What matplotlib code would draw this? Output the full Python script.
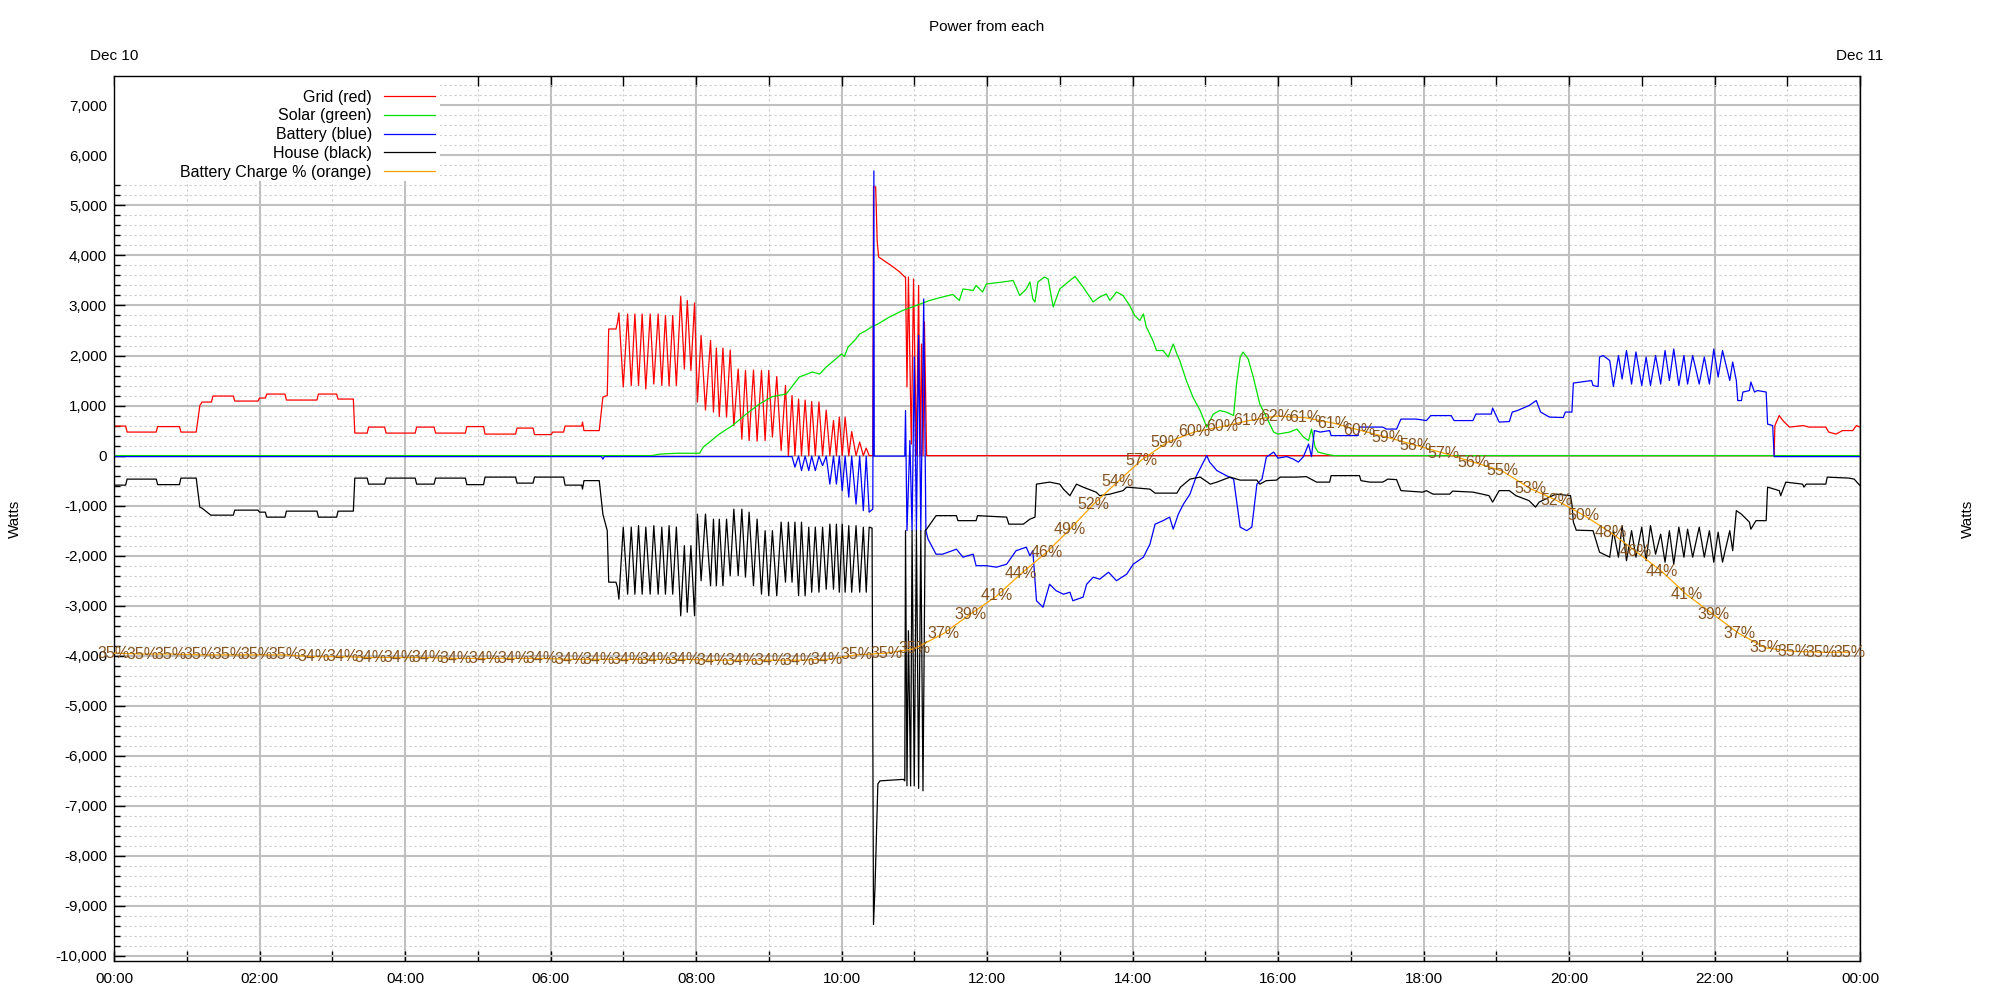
import numpy as np
import matplotlib
matplotlib.use('Agg')
import matplotlib.pyplot as plt
from matplotlib.ticker import MultipleLocator, FuncFormatter
from matplotlib.patches import Rectangle

plt.rcParams['font.family'] = ['Liberation Sans', 'DejaVu Sans']

# (hour of day, watts)
grid_pts = [
    (0.00, 590), (0.16, 590), (0.18, 470), (0.58, 470), (0.60, 580), (0.90, 580), (0.92, 470),
    (1.13, 470), (1.18, 1000), (1.21, 1070), (1.34, 1070), (1.36, 1190), (1.64, 1190), (1.66, 1090),
    (1.98, 1090), (2.00, 1150), (2.08, 1150), (2.10, 1230), (2.35, 1230), (2.37, 1110), (2.79, 1110),
    (2.81, 1230), (3.06, 1230), (3.08, 1130), (3.29, 1130), (3.31, 450), (3.48, 450), (3.50, 570),
    (3.72, 570), (3.74, 450), (4.14, 450), (4.16, 570), (4.40, 570), (4.42, 450), (4.83, 450),
    (4.85, 580), (5.08, 580), (5.10, 430), (5.52, 430), (5.54, 550), (5.76, 550), (5.78, 420),
    (6.01, 420), (6.03, 470), (6.18, 470), (6.20, 590), (6.43, 590), (6.44, 670), (6.46, 500),
    (6.67, 500), (6.72, 1170), (6.78, 1200), (6.80, 2530), (6.90, 2530), (6.92, 2650),
    (6.94, 2850), (7.00, 1370), (7.06, 2830), (7.11, 1400), (7.16, 2830), (7.21, 1400),
    (7.26, 2830), (7.31, 1330), (7.37, 2830), (7.42, 1430), (7.48, 2830), (7.53, 1400),
    (7.58, 2800), (7.63, 1390), (7.68, 2800), (7.73, 1400), (7.79, 3180), (7.84, 1730),
    (7.88, 3100), (7.93, 1700), (7.98, 3050), (8.02, 1070), (8.07, 2400), (8.13, 910),
    (8.20, 2300), (8.24, 870), (8.28, 2150), (8.32, 780), (8.37, 2150), (8.42, 770),
    (8.47, 2110), (8.52, 600), (8.58, 1730), (8.63, 330), (8.68, 1700), (8.73, 300),
    (8.79, 1710), (8.84, 290), (8.90, 1700), (8.95, 300), (9.00, 1700), (9.05, 370),
    (9.11, 1580), (9.17, 100), (9.23, 1400), (9.27, 0), (9.32, 1200), (9.36, 0),
    (9.41, 1130), (9.45, 0), (9.50, 1110), (9.55, 0), (9.59, 1080), (9.64, 0),
    (9.69, 1070), (9.74, 0), (9.79, 910), (9.84, 0), (9.89, 700), (9.93, 0),
    (9.97, 770), (10.01, 0), (10.05, 770), (10.10, 0), (10.14, 480), (10.20, 0),
    (10.25, 270), (10.30, 0), (10.34, 150), (10.38, 0), (10.43, 0), (10.44, 5370),
    (10.47, 5370), (10.49, 4300), (10.51, 3970), (10.61, 3870), (10.71, 3770), (10.80, 3670),
    (10.87, 3570), (10.88, 3570), (10.90, 1370), (10.92, 3570), (10.96, 230), (10.99, 3530),
    (11.03, 0), (11.06, 3400), (11.08, 0), (11.10, 2230), (11.12, 0), (11.14, 2670),
    (11.17, 0), (22.82, 0), (22.83, 600), (22.89, 800), (22.94, 700), (23.03, 570), (23.22, 600),
    (23.30, 570), (23.53, 570), (23.57, 470), (23.67, 430), (23.76, 500), (23.90, 500),
    (23.95, 600), (24.00, 570),
]

solar_pts = [
    (0.00, 0), (7.40, 0), (7.50, 30), (7.73, 47), (8.05, 47), (8.10, 170), (8.32, 430),
    (8.50, 600), (8.69, 830), (8.87, 1030), (9.05, 1180), (9.24, 1230), (9.33, 1400),
    (9.42, 1570), (9.60, 1670), (9.70, 1630), (9.79, 1770), (9.92, 1930), (10.00, 2030),
    (10.04, 1980), (10.09, 2170), (10.18, 2300), (10.25, 2430), (10.34, 2500), (10.41, 2570),
    (10.50, 2630), (10.66, 2770), (10.84, 2900), (11.03, 3000), (11.21, 3100), (11.39, 3170),
    (11.53, 3220), (11.62, 3100), (11.67, 3330), (11.81, 3300), (11.85, 3400), (11.94, 3270),
    (11.99, 3430), (12.22, 3470), (12.36, 3500), (12.45, 3200), (12.54, 3330), (12.59, 3470),
    (12.63, 3130), (12.66, 3070), (12.70, 3470), (12.79, 3570), (12.84, 3530), (12.91, 2970),
    (13.00, 3330), (13.14, 3500), (13.21, 3580), (13.32, 3370), (13.46, 3070), (13.55, 3170),
    (13.64, 3230), (13.69, 3100), (13.78, 3270), (13.87, 3200), (13.96, 3000), (14.03, 2800),
    (14.10, 2700), (14.15, 2830), (14.19, 2570), (14.28, 2300), (14.33, 2100), (14.42, 2100),
    (14.49, 1970), (14.56, 2230), (14.61, 2030), (14.65, 1900), (14.74, 1500), (14.83, 1170),
    (14.93, 900), (15.02, 570), (15.11, 830), (15.20, 900), (15.29, 870), (15.39, 800),
    (15.43, 1430), (15.48, 1970), (15.52, 2070), (15.59, 1930), (15.66, 1570), (15.75, 1030),
    (15.84, 770), (15.94, 470), (16.00, 430), (16.16, 470), (16.26, 530), (16.35, 370),
    (16.42, 300), (16.46, 530), (16.51, 170), (16.55, 70), (16.71, 13), (16.78, 0), (24.00, 0),
]

battery_pts = [
    (0.00, -20), (6.70, -20), (6.72, -70), (6.74, -20), (9.32, -20),
    (9.36, -230), (9.41, -10), (9.45, -300), (9.50, -10), (9.55, -300), (9.59, -10),
    (9.64, -300), (9.69, -10), (9.74, -200), (9.79, -10), (9.84, -570), (9.89, -10),
    (9.93, -570), (9.97, -10), (10.01, -700), (10.05, -10), (10.10, -830), (10.14, -10),
    (10.20, -970), (10.25, -10), (10.30, -1100), (10.34, -10), (10.38, -1130), (10.43, -1070),
    (10.445, 5690), (10.45, -10), (10.87, -10), (10.88, 900), (10.90, -1500), (10.94, 300),
    (10.97, -1500), (11.00, 1970), (11.03, -1500), (11.06, 2400), (11.09, -1500), (11.13, 3130),
    (11.16, -1500), (11.19, -1670), (11.30, -1970), (11.39, -1970), (11.58, -1870), (11.67, -2030),
    (11.81, -1970), (11.85, -2200), (11.99, -2200), (12.13, -2230), (12.27, -2170), (12.40, -1900),
    (12.54, -1830), (12.59, -2000), (12.63, -1900), (12.68, -2900), (12.77, -3030), (12.86, -2570),
    (12.95, -2700), (13.05, -2770), (13.14, -2730), (13.18, -2900), (13.32, -2830), (13.37, -2570),
    (13.46, -2430), (13.55, -2470), (13.67, -2330), (13.78, -2500), (13.92, -2370), (14.01, -2170),
    (14.15, -2030), (14.24, -1770), (14.31, -1370), (14.42, -1300), (14.51, -1230), (14.56, -1470),
    (14.63, -1170), (14.70, -970), (14.79, -770), (14.88, -400), (14.95, -200), (15.02, 0),
    (15.06, -130), (15.16, -300), (15.29, -400), (15.39, -470), (15.43, -900), (15.48, -1430),
    (15.57, -1500), (15.64, -1430), (15.71, -570), (15.78, -470), (15.84, -30), (15.94, 70),
    (16.00, -50), (16.12, -20), (16.21, -70), (16.28, -130), (16.35, -20), (16.42, 230),
    (16.46, -20), (16.50, 500), (16.58, 470), (16.71, 500), (16.73, 400), (17.10, 400),
    (17.12, 570), (17.44, 570), (17.49, 530), (17.63, 530), (17.69, 730), (17.90, 730),
    (18.04, 700), (18.10, 800), (18.38, 800), (18.42, 700), (18.68, 700), (18.72, 830),
    (18.93, 830), (18.95, 950), (19.04, 670), (19.18, 680), (19.22, 870), (19.29, 900),
    (19.45, 1000), (19.55, 1100), (19.61, 870), (19.73, 770), (19.92, 760), (19.95, 870),
    (20.04, 870), (20.06, 1450), (20.31, 1500), (20.33, 1400), (20.40, 1380), (20.42, 1970),
    (20.47, 2000), (20.56, 1900), (20.61, 1380), (20.68, 2000), (20.73, 1530), (20.79, 2100),
    (20.86, 1430), (20.92, 2070), (21.00, 1400), (21.06, 1970), (21.12, 1400), (21.19, 2000),
    (21.26, 1430), (21.32, 2100), (21.38, 1500), (21.44, 2130), (21.51, 1400), (21.58, 2000),
    (21.63, 1430), (21.70, 2000), (21.79, 1430), (21.86, 1970), (21.93, 1430), (21.99, 2130),
    (22.05, 1570), (22.11, 2100), (22.21, 1500), (22.25, 1870), (22.30, 1500), (22.32, 1100),
    (22.37, 1100), (22.39, 1270), (22.48, 1300), (22.50, 1470), (22.55, 1270), (22.59, 1300),
    (22.71, 1270), (22.73, 630), (22.80, 600), (22.82, -20), (24.00, -20),
]

house_pts = [
    (0.00, -590), (0.16, -590), (0.18, -470), (0.58, -470), (0.60, -580), (0.90, -580),
    (0.92, -450), (1.13, -450), (1.18, -1030), (1.21, -1050), (1.33, -1190), (1.64, -1190),
    (1.66, -1090), (1.98, -1090), (2.00, -1130), (2.08, -1130), (2.10, -1230), (2.35, -1230),
    (2.37, -1110), (2.79, -1110), (2.81, -1230), (3.06, -1230), (3.08, -1110), (3.29, -1110),
    (3.31, -450), (3.48, -450), (3.50, -570), (3.72, -570), (3.74, -450), (4.14, -450),
    (4.16, -570), (4.40, -570), (4.42, -450), (4.83, -450), (4.85, -580), (5.08, -580),
    (5.10, -430), (5.52, -430), (5.54, -550), (5.76, -550), (5.78, -430), (6.18, -430),
    (6.20, -590), (6.43, -590), (6.44, -670), (6.46, -500), (6.67, -500), (6.72, -1170),
    (6.78, -1500), (6.80, -2530), (6.90, -2530), (6.92, -2630),
    (6.94, -2870), (7.00, -1430), (7.06, -2770), (7.11, -1430), (7.16, -2770), (7.21, -1400),
    (7.26, -2770), (7.31, -1430), (7.37, -2770), (7.42, -1400), (7.48, -2770), (7.53, -1430),
    (7.58, -2770), (7.63, -1400), (7.68, -2770), (7.73, -1430), (7.79, -3200), (7.84, -1800),
    (7.88, -3130), (7.93, -1800), (7.98, -3200), (8.02, -1170), (8.07, -2500), (8.13, -1170),
    (8.20, -2600), (8.24, -1270), (8.28, -2600), (8.32, -1270), (8.37, -2600), (8.42, -1270),
    (8.47, -2400), (8.52, -1070), (8.58, -2400), (8.63, -1070), (8.68, -2430), (8.73, -1130),
    (8.79, -2600), (8.84, -1270), (8.90, -2770), (8.95, -1500), (9.00, -2800), (9.05, -1500),
    (9.11, -2800), (9.17, -1330), (9.23, -2530), (9.27, -1330), (9.32, -2530), (9.36, -1330),
    (9.41, -2800), (9.45, -1330), (9.50, -2800), (9.55, -1430), (9.59, -2730), (9.64, -1430),
    (9.69, -2730), (9.74, -1430), (9.79, -2670), (9.84, -1370), (9.89, -2670), (9.93, -1370),
    (9.97, -2730), (10.01, -1370), (10.05, -2730), (10.10, -1400), (10.14, -2730), (10.20, -1400),
    (10.25, -2730), (10.30, -1430), (10.34, -2730), (10.38, -1430), (10.42, -1450),
    (10.44, -9370), (10.46, -8640), (10.48, -7590), (10.50, -6560), (10.53, -6500), (10.85, -6470),
    (10.87, -6500), (10.88, -1500), (10.90, -6600), (10.92, -3500), (10.95, -6600), (10.97, -1500),
    (11.00, -6600), (11.03, -1500), (11.06, -6650), (11.09, -1500), (11.12, -6700), (11.15, -1500),
    (11.17, -1470), (11.30, -1200), (11.58, -1200), (11.60, -1300), (11.85, -1300), (11.87, -1200),
    (12.27, -1230), (12.30, -1370), (12.50, -1370), (12.59, -1270), (12.66, -1230), (12.68, -570),
    (12.86, -530), (13.00, -570), (13.05, -670), (13.14, -800), (13.23, -570), (13.32, -630),
    (13.50, -730), (13.55, -800), (13.69, -770), (13.87, -700), (13.92, -630), (14.24, -670),
    (14.31, -750), (14.61, -750), (14.66, -630), (14.79, -470), (14.93, -430), (15.07, -570),
    (15.16, -530), (15.34, -430), (15.48, -490), (15.71, -490), (15.75, -570), (15.84, -500),
    (15.98, -490), (16.03, -430), (16.26, -430), (16.39, -420), (16.53, -530), (16.71, -530),
    (16.73, -400), (17.12, -400), (17.14, -500), (17.26, -530), (17.44, -530), (17.51, -470),
    (17.63, -480), (17.69, -700), (17.99, -730), (18.04, -700), (18.13, -770), (18.36, -770),
    (18.40, -710), (18.68, -730), (18.90, -800), (18.95, -930), (19.04, -700), (19.18, -700),
    (19.27, -800), (19.45, -900), (19.54, -1030), (19.59, -930), (19.73, -830), (19.82, -770),
    (20.02, -800), (20.04, -970), (20.06, -1330), (20.10, -1490), (20.33, -1500), (20.42, -1930),
    (20.56, -2030), (20.61, -1500), (20.68, -2030), (20.73, -1400), (20.79, -2100), (20.86, -1500),
    (20.92, -2030), (21.00, -1430), (21.06, -2100), (21.12, -1400), (21.19, -1970), (21.26, -1570),
    (21.32, -2130), (21.38, -1500), (21.44, -2170), (21.51, -1430), (21.58, -2030), (21.63, -1470),
    (21.70, -2030), (21.79, -1430), (21.86, -2030), (21.93, -1500), (21.99, -2130), (22.05, -1530),
    (22.11, -2130), (22.21, -1500), (22.25, -1900), (22.30, -1100), (22.37, -1170), (22.48, -1330),
    (22.50, -1470), (22.57, -1300), (22.71, -1300), (22.73, -630), (22.89, -700), (22.91, -800),
    (22.98, -530), (23.21, -570), (23.23, -630), (23.26, -570), (23.53, -570), (23.55, -430),
    (23.85, -450), (23.92, -470), (24.00, -600),
]

# battery charge, percent (right-hand 0-100 scale), with the hours it was labelled at
charge_t = [0.00, 0.39, 0.78, 1.18, 1.57, 1.96, 2.35, 2.74, 3.14, 3.53, 3.92, 4.31, 4.70,
            5.10, 5.49, 5.88, 6.27, 6.66, 7.06, 7.45, 7.84, 8.23, 8.62, 9.02, 9.41, 9.80,
            10.20, 10.62, 11.00, 11.40, 11.77, 12.14, 12.47, 12.82, 13.14, 13.46, 13.80,
            14.12, 14.47, 14.85, 15.23, 15.61, 15.98, 16.38, 16.76, 17.12, 17.50, 17.89,
            18.28, 18.68, 19.08, 19.47, 19.82, 20.20, 20.58, 20.92, 21.28, 21.62, 21.98,
            22.34, 22.70, 23.08, 23.47, 23.86]
charge_pct = [34.8, 34.7, 34.7, 34.6, 34.6, 34.6, 34.6, 34.4, 34.4, 34.3, 34.3, 34.3, 34.2,
              34.2, 34.2, 34.2, 34.1, 34.1, 34.1, 34.1, 34.1, 34.0, 34.0, 34.0, 34.0, 34.1,
              34.6, 34.8, 35.3, 37.0, 39.2, 41.3, 43.8, 46.2, 48.8, 51.6, 54.2,
              56.6, 58.6, 59.8, 60.4, 61.1, 61.6, 61.4, 60.8, 60.0, 59.2, 58.3,
              57.4, 56.4, 55.4, 53.4, 52.1, 50.4, 48.4, 46.3, 44.0, 41.4, 39.2,
              37.0, 35.4, 35.0, 34.9, 34.9]

series = [
    (grid_pts, '#ff0000', 'Grid (red)'),
    (solar_pts, '#00e000', 'Solar (green)'),
    (battery_pts, '#0000ff', 'Battery (blue)'),
    (house_pts, '#000000', 'House (black)'),
]

fig = plt.figure(figsize=(20, 10), dpi=100)
ax = fig.add_axes([0.057, 0.039, 0.873, 0.8847])
ax.set_xlim(0, 24)
ax.set_ylim(-10100, 7580)

handles = []
for pts, col, lab in series:
    a = np.array(pts, dtype=float)
    h, = ax.plot(a[:, 0], a[:, 1], color=col, lw=0.9, label=lab)
    handles.append(h)

ax.xaxis.set_major_locator(MultipleLocator(2))
ax.xaxis.set_minor_locator(MultipleLocator(1))
ax.xaxis.set_major_formatter(FuncFormatter(lambda v, p: f"{int(round(v)) % 24:02d}:00"))
ax.yaxis.set_major_locator(MultipleLocator(1000))
ax.yaxis.set_minor_locator(MultipleLocator(200))
ax.yaxis.set_major_formatter(FuncFormatter(lambda v, p: f"{int(round(v)):,}"))

ax.tick_params(axis='both', which='both', direction='in', top=True, right=True,
               labelright=True, labelsize=11, width=1, colors='black')
ax.tick_params(axis='x', which='both', length=7, pad=8)
ax.tick_params(axis='y', which='major', length=8, pad=5)
ax.tick_params(axis='y', which='minor', length=4.3)

ax.set_axisbelow(True)
ax.grid(which='major', color='#c0c0c0', lw=1.5, ls='-')
ax.grid(which='minor', color='#cccccc', lw=0.8, ls=(0, (2, 2.5)))
for s in ax.spines.values():
    s.set_linewidth(1)
    s.set_color('black')

# white key area hides the grid behind it
ax.add_patch(Rectangle((0, 0.8814), 0.1867, 0.1186, transform=ax.transAxes,
                       facecolor='white', edgecolor='none', zorder=1))

# charge on its own 0-100 scale
ax2 = ax.twinx()
ax2.set_ylim(0, 100)
ax2.set_yticks([])
for s in ax2.spines.values():
    s.set_visible(False)
h, = ax2.plot(charge_t, charge_pct, color='#ffa500', lw=0.9, label='Battery Charge % (orange)')
handles.append(h)
for t, p in zip(charge_t, charge_pct):
    ax2.text(t, p, f"{int(p + 0.5)}%", ha='center', va='center', fontsize=11.5,
             color='#855421', clip_on=False)

ax2.legend(handles=handles, loc='upper right', bbox_to_anchor=(0.1838, 0.985),
           frameon=False, markerfirst=False, fontsize=11.5, handlelength=3.2,
           handletextpad=0.75, labelspacing=0.24, borderpad=0, borderaxespad=0)

fig.text(0.4935, 0.973, 'Power from each', ha='center', va='center', fontsize=11)
fig.text(0.057, 0.944, 'Dec 10', ha='center', va='center', fontsize=11)
fig.text(0.930, 0.944, 'Dec 11', ha='center', va='center', fontsize=11)
fig.text(0.0075, 0.4815, 'Watts', ha='center', va='center', rotation=90, fontsize=11)
fig.text(0.984, 0.4815, 'Watts', ha='center', va='center', rotation=90, fontsize=11)

fig.savefig('out.png', dpi=100)
